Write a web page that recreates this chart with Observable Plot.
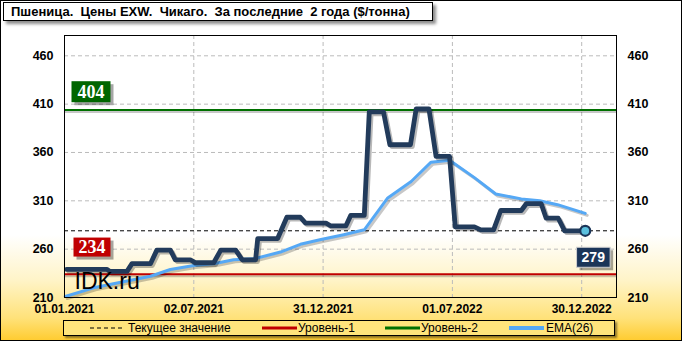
<!DOCTYPE html>
<html><head><meta charset="utf-8">
<script src="https://cdn.jsdelivr.net/npm/d3@7"></script>
<script src="https://cdn.jsdelivr.net/npm/@observablehq/plot@0.6"></script>
<style>
html,body{margin:0;padding:0;background:#fff;}
#chart{position:relative;width:682px;height:341px;overflow:hidden;font-family:"Liberation Sans",Arial,sans-serif;
 background:linear-gradient(to bottom,#fff 0px,#fff 235px,#FFF4C8 280px,#FFE27A 318px,#FFCB2E 341px);
 box-shadow:inset 0 0 0 1px #000;}
#plot{position:absolute;left:0;top:0;}
#title{position:absolute;left:3px;top:2px;width:430px;height:19px;box-sizing:border-box;background:#fff;border:1px solid #000;
 box-shadow:3px 3px 3px rgba(0,0,0,0.45);font-weight:bold;font-size:13px;line-height:17px;white-space:pre;padding-left:7px;color:#000;}
#legend{position:absolute;left:63px;top:320px;width:552px;height:16px;box-sizing:border-box;background:#FFE47C;border:1px solid #000;
 box-shadow:2px 2px 2px rgba(0,0,0,0.45);font-size:12px;color:#000;}
#legend .it{position:absolute;top:0;line-height:14px;white-space:nowrap;}
#legend svg{position:absolute;top:0;}
</style></head>
<body>
<div id="chart">
 <div id="plot"></div>
 <div id="title">Пшеница.  Цены EXW.  Чикаго.  За последние  2 года ($/тонна)</div>
 <div id="legend"></div>
</div>
<script>
// ---- data ----
const priceDates = ["2021-01-04","2021-03-02","2021-03-06","2021-03-30","2021-04-06","2021-05-02","2021-05-11","2021-05-30","2021-06-06","2021-06-27","2021-07-04","2021-07-30","2021-08-09","2021-08-30","2021-09-08","2021-09-27","2021-09-30","2021-10-28","2021-11-10","2021-11-29","2021-12-06","2022-01-04","2022-01-11","2022-02-01","2022-02-08","2022-02-27","2022-03-06","2022-03-26","2022-04-04","2022-05-03","2022-05-11","2022-05-29","2022-06-08","2022-06-27","2022-07-05","2022-08-01","2022-08-10","2022-08-28","2022-09-07","2022-10-06","2022-10-13","2022-11-03","2022-11-10","2022-11-27","2022-12-06","2023-01-04"];
const priceValues = [239,239,237,237,245,245,259,259,249,249,246,246,259,259,249,249,271,271,293,293,287,287,284,284,295,295,402,402,368,368,405,405,356,356,283,283,280,280,300,300,307,307,292,292,279,279];
const emaDates = ["2021-01-02","2021-02-11","2021-03-30","2021-05-02","2021-05-30","2021-07-02","2021-07-30","2021-08-27","2021-09-25","2021-11-01","2021-11-29","2021-12-28","2022-01-29","2022-02-27","2022-04-01","2022-05-04","2022-06-01","2022-06-27","2022-08-01","2022-08-31","2022-10-06","2022-11-01","2022-11-26","2023-01-04"];
const emaValues = [211,220,227,232,239,243,245,249,250,257,265,270,275,280,313,330,350,352,334,317,312,310,306,297];
const yTicks = [210,260,310,360,410,460];
const xTicks = ["2021-01-01","2021-07-02","2021-12-31","2022-07-01","2022-12-30"];
const xDomain = ["2021-01-01","2023-02-17"];
const yDomain = [210,481];
const level1 = 234, level2 = 404, currentValue = 279;
const watermark = "IDK.ru";
const legendItems = [
 {label:"Текущее значение", kind:"dash", color:"#000"},
 {label:"Уровень-1", kind:"line", color:"#C00000"},
 {label:"Уровень-2", kind:"line", color:"#007000"},
 {label:"EMA(26)", kind:"line", color:"#55A8F5"}
];

// ---- build tables ----
const price = priceDates.map((d,i)=>({date:new Date(d), value:priceValues[i]}));
const ema = emaDates.map((d,i)=>({date:new Date(d), value:emaValues[i]}));
const last = price[price.length-1];
const fmt = d3.utcFormat("%d.%m.%Y");
const xTickDates = xTicks.map(d=>new Date(d));
const shadow = {stroke:"#000", strokeOpacity:0.22, dx:2, dy:2};

const plot = Plot.plot({
 width:682, height:320,
 marginTop:35, marginRight:66, marginBottom:23, marginLeft:64,
 x:{type:"utc", domain:xDomain.map(d=>new Date(d))},
 y:{domain:yDomain},
 style:{background:"transparent", fontFamily:"Liberation Sans, Arial, sans-serif", overflow:"visible", color:"#000"},
 marks:[
  Plot.gridY(yTicks.slice(1), {stroke:"#bbbbbb", strokeOpacity:1, strokeDasharray:"4,3"}),
  Plot.gridX(xTickDates.slice(1), {stroke:"#bbbbbb", strokeOpacity:1, strokeDasharray:"4,3"}),
  Plot.axisY(yTicks, {anchor:"left", tickSize:0, tickPadding:11, fontSize:12.5, fontWeight:"bold", label:null}),
  Plot.axisY(yTicks, {anchor:"right", tickSize:0, tickPadding:11, fontSize:12.5, fontWeight:"bold", label:null}),
  Plot.axisX(xTickDates, {anchor:"bottom", tickSize:0, tickPadding:7, fontSize:12, fontWeight:"bold", tickFormat:fmt, label:null}),
  Plot.ruleY([level1, level2], {...shadow, strokeWidth:2, dx:1}),
  Plot.ruleY([level1], {stroke:"#C00000", strokeWidth:2}),
  Plot.ruleY([level2], {stroke:"#007000", strokeWidth:2}),
  Plot.ruleY([currentValue], {stroke:"#000", strokeWidth:1, strokeDasharray:"4,3"}),
  Plot.line(ema, {x:"date", y:"value", ...shadow, strokeWidth:3}),
  Plot.line(ema, {x:"date", y:"value", stroke:"#55A8F5", strokeWidth:3}),
  Plot.line(price, {x:"date", y:"value", ...shadow, strokeOpacity:0.28, strokeWidth:4.5, strokeLinejoin:"round"}),
  Plot.line(price, {x:"date", y:"value", stroke:"#223B5B", strokeWidth:4.8, strokeLinejoin:"round"}),
  Plot.dot([last], {x:"date", y:"value", r:5, fill:"#5BC0DE", stroke:"#1B3558", strokeWidth:2.2}),
  Plot.text([watermark], {frameAnchor:"bottom-left", lineAnchor:"bottom", dx:10, dy:-9, fontSize:23, fill:"#000", fontFamily:"Liberation Sans, Arial, sans-serif"}),
  Plot.text([level2], {y:d=>d, text:d=>String(d), frameAnchor:"left", dx:26.5, dy:-18, textAnchor:"middle", fill:"#fff", fontSize:18, fontWeight:"bold", fontFamily:"Liberation Serif, Times New Roman, serif"}),
  Plot.text([level1], {y:d=>d, text:d=>String(d), frameAnchor:"left", dx:27.5, dy:-27, textAnchor:"middle", fill:"#fff", fontSize:18, fontWeight:"bold", fontFamily:"Liberation Serif, Times New Roman, serif"}),
  Plot.text([last], {x:"date", y:"value", text:d=>String(d.value), dx:8, dy:27, textAnchor:"middle", fill:"#fff", fontSize:14, fontWeight:"bold"}),
  Plot.frame({stroke:"#000", strokeWidth:1})
 ]
});
document.getElementById("plot").appendChild(plot);

const ns = "http://www.w3.org/2000/svg";
function mkRect(b, padX, h, tr){
 const r = document.createElementNS(ns,"rect");
 r.setAttribute("x", b.x - padX);
 r.setAttribute("y", b.y + b.height/2 - h/2);
 r.setAttribute("width", b.width + 2*padX);
 r.setAttribute("height", h);
 if(tr) r.setAttribute("transform", tr);
 return r;
}
const textGroups = plot.querySelectorAll('g[aria-label="text"]');
function boxify(g, fill, stroke, padX, h){
 if(!g) return;
 g.querySelectorAll("text").forEach(t=>{
  const b = t.getBBox();
  const tr = t.getAttribute("transform") || "";
  const s = mkRect(b, padX, h, tr + " translate(3,3)");
  s.setAttribute("fill","#000"); s.setAttribute("fill-opacity","0.35"); s.setAttribute("stroke","none");
  const r = mkRect(b, padX, h, tr);
  r.setAttribute("fill", fill);
  r.setAttribute("stroke", stroke);
  r.setAttribute("stroke-width", stroke==="none"?0:1);
  t.parentNode.insertBefore(s, t);
  t.parentNode.insertBefore(r, t);
 });
}
boxify(textGroups[1],"#006600","none",6,21);
boxify(textGroups[2],"#C00000","none",5,19);
boxify(textGroups[3],"#1B3558","#d0d0d0",5,20);

// legend
const lg = document.getElementById("legend");
const pos = [{s:26,w:32,t:64},{s:198,w:35,t:234},{s:321,w:35,t:357},{s:445,w:35,t:482}];
legendItems.forEach((it,i)=>{
 const p = pos[i];
 const sv = document.createElementNS(ns,"svg");
 sv.setAttribute("width",p.w); sv.setAttribute("height",14);
 sv.style.left = p.s+"px";
 const ln = document.createElementNS(ns,"line");
 ln.setAttribute("x1",0); ln.setAttribute("x2",p.w); ln.setAttribute("y1",7); ln.setAttribute("y2",7);
 ln.setAttribute("stroke",it.color);
 if(it.kind==="dash"){ln.setAttribute("stroke-width",1.2); ln.setAttribute("stroke-dasharray","4,3");}
 else ln.setAttribute("stroke-width", i===3?4:3);
 sv.appendChild(ln); lg.appendChild(sv);
 const sp = document.createElement("span");
 sp.className="it"; sp.style.left=p.t+"px"; sp.textContent=it.label;
 lg.appendChild(sp);
});
</script>
</body></html>
